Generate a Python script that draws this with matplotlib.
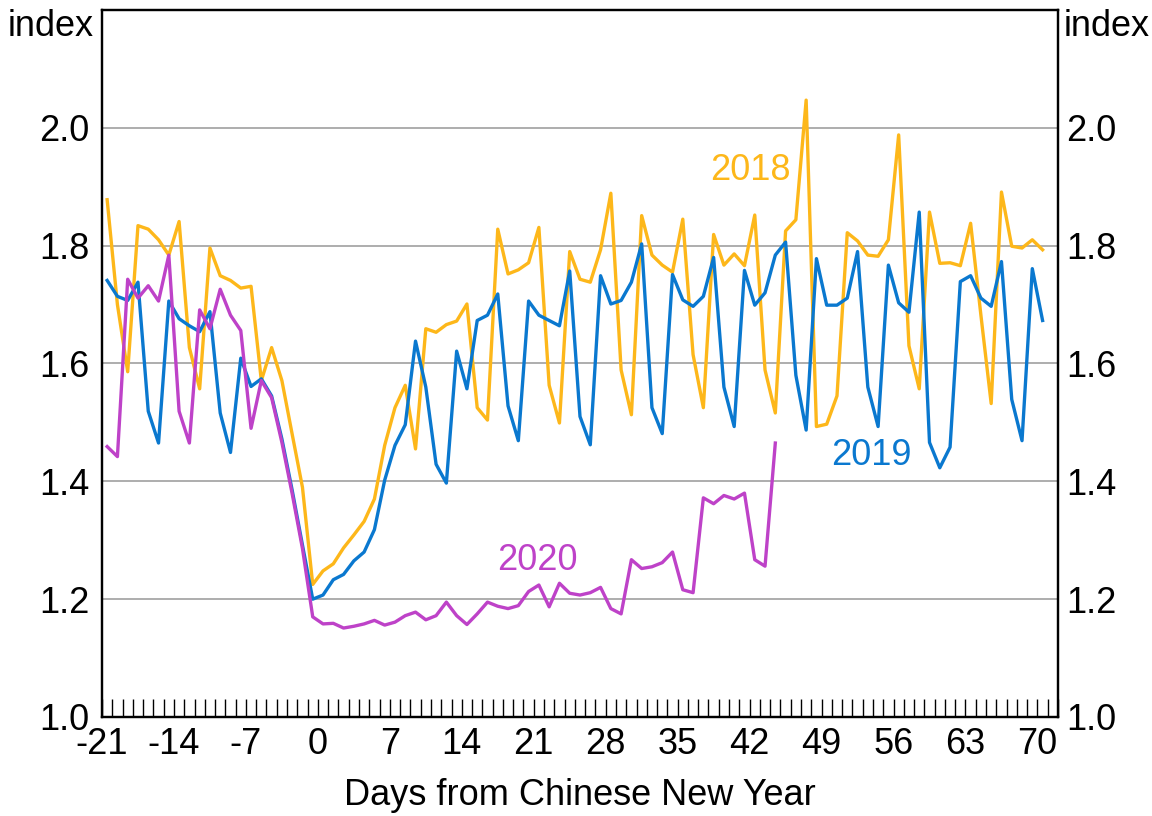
import matplotlib
matplotlib.use("Agg")
import matplotlib.pyplot as plt
import numpy as np

plt.rcParams['font.family'] = ['Liberation Sans', 'DejaVu Sans']

# days from Chinese New Year (data)
days_2018 = list(range(-21, 71))
days_2019 = list(range(-21, 71))
days_2020 = list(range(-21, 45))

idx_2018 = [1.878, 1.70, 1.586, 1.834, 1.828, 1.810, 1.784, 1.841, 1.627, 1.557,
            1.796, 1.749, 1.741, 1.728, 1.731, 1.571, 1.627, 1.571, 1.48, 1.39,
            1.225, 1.248, 1.260, 1.287, 1.309, 1.332, 1.370, 1.461, 1.525, 1.563,
            1.455, 1.659, 1.653, 1.666, 1.672, 1.701, 1.525, 1.504, 1.828, 1.752,
            1.759, 1.771, 1.831, 1.563, 1.499, 1.790, 1.743, 1.738, 1.793, 1.889,
            1.589, 1.513, 1.851, 1.784, 1.767, 1.755, 1.845, 1.615, 1.525, 1.819,
            1.767, 1.786, 1.766, 1.852, 1.589, 1.516, 1.825, 1.844, 2.047, 1.493,
            1.497, 1.545, 1.822, 1.808, 1.784, 1.782, 1.810, 1.988, 1.630, 1.557,
            1.857, 1.770, 1.771, 1.766, 1.838, 1.682, 1.532, 1.891, 1.799, 1.796,
            1.810, 1.793]

idx_2019 = [1.741, 1.714, 1.707, 1.738, 1.519, 1.465, 1.706, 1.676, 1.664, 1.654,
            1.688, 1.516, 1.449, 1.609, 1.561, 1.574, 1.545, 1.472, 1.385, 1.292,
            1.200, 1.207, 1.233, 1.242, 1.265, 1.280, 1.318, 1.402, 1.461, 1.496,
            1.638, 1.560, 1.429, 1.397, 1.621, 1.557, 1.673, 1.682, 1.718, 1.528,
            1.469, 1.706, 1.682, 1.673, 1.664, 1.757, 1.510, 1.462, 1.749, 1.701,
            1.707, 1.738, 1.803, 1.525, 1.481, 1.751, 1.708, 1.697, 1.714, 1.780,
            1.560, 1.493, 1.758, 1.699, 1.720, 1.784, 1.806, 1.580, 1.487, 1.778,
            1.699, 1.699, 1.711, 1.790, 1.560, 1.493, 1.767, 1.703, 1.687, 1.857,
            1.466, 1.423, 1.458, 1.739, 1.749, 1.711, 1.697, 1.773, 1.539, 1.469,
            1.761, 1.673]

idx_2020 = [1.459, 1.442, 1.743, 1.711, 1.732, 1.706, 1.784, 1.519, 1.465, 1.691,
            1.659, 1.726, 1.682, 1.656, 1.490, 1.571, 1.542, 1.466, 1.379, 1.286,
            1.170, 1.158, 1.159, 1.151, 1.154, 1.158, 1.164, 1.156, 1.161, 1.172,
            1.178, 1.165, 1.172, 1.195, 1.172, 1.157, 1.175, 1.195, 1.188, 1.184,
            1.189, 1.213, 1.224, 1.187, 1.227, 1.210, 1.207, 1.211, 1.220, 1.184,
            1.175, 1.267, 1.252, 1.255, 1.262, 1.280, 1.216, 1.211, 1.372, 1.362,
            1.376, 1.370, 1.380, 1.267, 1.256, 1.465]

x_ticks = [-21, -14, -7, 0, 7, 14, 21, 28, 35, 42, 49, 56, 63, 70]
y_ticks = [1.0, 1.2, 1.4, 1.6, 1.8, 2.0]

c18 = '#FDB71A'
c19 = '#0A78CF'
c20 = '#BE42C8'
fs = 26

fig = plt.figure(figsize=(11.52, 8.16), dpi=100)
ax = fig.add_axes([102 / 1152, 1 - 717 / 816, (1058 - 102) / 1152, (717 - 10) / 816])

# points sit in the middle of each day slot
ax.plot(np.array(days_2018) + 0.5, idx_2018, color=c18, lw=2.4, zorder=3)
ax.plot(np.array(days_2019) + 0.5, idx_2019, color=c19, lw=2.4, zorder=4)
ax.plot(np.array(days_2020) + 0.5, idx_2020, color=c20, lw=2.4, zorder=5)

ax.set_xlim(-21, 72)
ax.set_ylim(1.0, 2.2)

for y in y_ticks[1:]:
    ax.axhline(y, color='#ADADAD', lw=1.4, zorder=1)

ax.set_xticks(x_ticks)
ax.set_xticklabels([str(t) for t in x_ticks], fontsize=fs)
ax.set_xticks(range(-21, 73), minor=True)
ax.tick_params(axis='x', which='both', direction='in', length=13, width=1.0,
               color='black', pad=7)
ax.set_yticks(y_ticks)
ax.set_yticklabels([f'{t:.1f}' for t in y_ticks], fontsize=fs)
ax.tick_params(axis='y', length=0, pad=9)

ax2 = ax.twinx()
ax2.set_ylim(1.0, 2.2)
ax2.set_yticks(y_ticks)
ax2.set_yticklabels([f'{t:.1f}' for t in y_ticks], fontsize=fs)
ax2.tick_params(axis='y', length=0, pad=6)

for a in (ax, ax2):
    for s in a.spines.values():
        s.set_linewidth(1.6)
        s.set_color('black')

ax.set_xlabel('Days from Chinese New Year', fontsize=fs, labelpad=12)

fig.text(94 / 1152, 1 - 27 / 816, 'index', fontsize=fs, ha='right', va='center')
fig.text(1064 / 1152, 1 - 27 / 816, 'index', fontsize=fs, ha='left', va='center')

ax.text(42.1, 1.927, '2018', color=c18, fontsize=fs, ha='center', va='center')
ax.text(53.8, 1.444, '2019', color=c19, fontsize=fs, ha='center', va='center')
ax.text(21.4, 1.266, '2020', color=c20, fontsize=fs, ha='center', va='center')

fig.savefig('out.png', dpi=100)
